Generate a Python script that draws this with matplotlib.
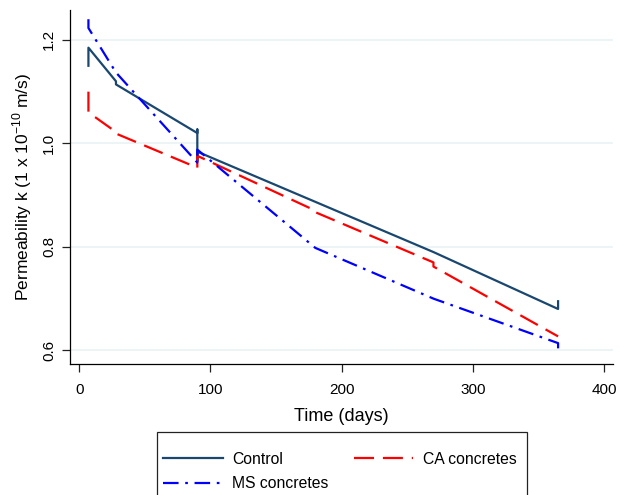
import matplotlib
matplotlib.use("Agg")
import matplotlib.pyplot as plt
from matplotlib.patches import Rectangle

plt.rcParams['font.family'] = ['Liberation Sans', 'DejaVu Sans']

# replicate measurements per age, joined in order as measured
control_days = [7, 7, 28, 28, 90, 90, 90, 90, 180, 270, 365, 365]
control_k = [1.150, 1.185, 1.120, 1.114, 1.020, 1.027, 0.965, 0.984, 0.887, 0.790, 0.680, 0.695]

ca_days = [7, 7, 28, 28, 90, 90, 180, 180, 270, 270, 365]
ca_k = [1.100, 1.060, 1.022, 1.019, 0.953, 0.976, 0.870, 0.867, 0.770, 0.762, 0.627]

ms_days = [7, 7, 28, 90, 90, 180, 270, 365, 365]
ms_k = [1.240, 1.223, 1.137, 0.963, 0.988, 0.798, 0.700, 0.614, 0.600]

xticks = [0, 100, 200, 300, 400]
yticks = [0.6, 0.8, 1.0, 1.2]

fig = plt.figure(figsize=(6.2, 4.95), dpi=100)
ax = fig.add_axes([0.113, 0.265, 0.876, 0.715])

for y in yticks:
    ax.axhline(y, color='#eaf2f3', lw=1.2, zorder=0)

ax.plot(control_days, control_k, color='#1a476f', lw=1.6, label='Control')
ax.plot(ca_days, ca_k, color='#ff0000', lw=1.6, dashes=(9, 4), label='CA concretes')
ax.plot(ms_days, ms_k, color='#0000ff', lw=1.6, dashes=(7, 3, 1.2, 3), label='MS concretes')

ax.set_xlim(-7, 407)
ax.set_ylim(0.574, 1.258)
ax.set_xticks(xticks)
ax.set_yticks(yticks)
ax.set_yticklabels(['0.6', '0.8', '1.0', '1.2'], rotation=90, va='center')
ax.tick_params(labelsize=11, length=6, width=0.9, color='#222222', pad=4)
ax.tick_params(axis='x', pad=8)
for s in ['top', 'right']:
    ax.spines[s].set_visible(False)
for s in ['left', 'bottom']:
    ax.spines[s].set_linewidth(0.9)

ax.set_xlabel('Time (days)', fontsize=13, labelpad=8)
ax.set_ylabel('Permeability k (1 x 10$^{\\mathregular{-10}}$ m/s)', fontsize=12.5, labelpad=6)

# legend box runs off the bottom edge of the figure
fig.patches.append(Rectangle((0.2532, -0.05), 0.5968, 0.1773, transform=fig.transFigure,
                             fill=False, edgecolor='#222222', lw=0.9))

h, l = ax.get_legend_handles_labels()
leg = fig.legend([h[0], h[2], h[1]], [l[0], l[2], l[1]], ncol=2,
                 loc='upper left', bbox_to_anchor=(0.263, 0.087), borderaxespad=0,
                 fontsize=11.3, frameon=False, borderpad=0,
                 handlelength=3.8, columnspacing=1.6,
                 labelspacing=0.6, handletextpad=0.6)

fig.savefig('out.png', dpi=100)
